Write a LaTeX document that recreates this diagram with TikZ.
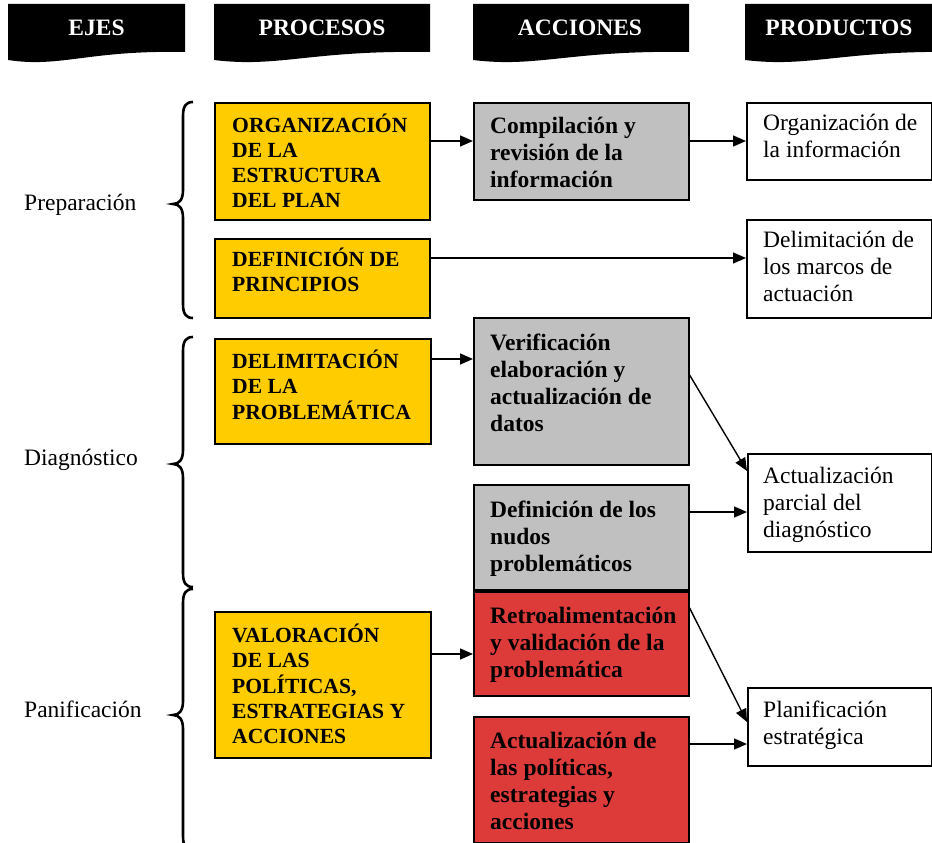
\documentclass[tikz,border=0pt]{standalone}
\usepackage{fontspec}
\setmainfont{Liberation Serif}
\usetikzlibrary{arrows.meta,calc}
\definecolor{yel}{RGB}{255,204,0}
\definecolor{gry}{RGB}{192,192,192}
\definecolor{rd}{RGB}{221,58,58}
\newcommand\bannerpath[2]{\fill[black] (#1,4) -- (#2,4) -- (#2,52) .. controls ({#1+0.45*(#2-#1)},50) and ({#1+0.3*(#2-#1)},68) .. (#1,60) -- cycle;}
\newcommand\bracepath[3]{\draw[line width=2.6pt] (193,#1) .. controls (186,#1) and (183,#1+4) .. (183,#1+14) -- (183,#2-14) .. controls (183,#2-4) and (179,#2) .. (173,#2) .. controls (179,#2) and (183,#2+4) .. (183,#2+14) -- (183,#3-14) .. controls (183,#3-4) and (186,#3) .. (193,#3);}
\begin{document}
\begin{tikzpicture}[x=1pt,y=-1pt,
  box/.style={draw=black,line width=1.6pt,anchor=north west,inner sep=0pt},
  btx/.style={inner sep=0pt,anchor=base west,font=\fontsize{23.5}{27}\selectfont\bfseries},
  ytx/.style={inner sep=0pt,anchor=base west,font=\fontsize{21.6}{25}\selectfont\bfseries},
  ptx/.style={inner sep=0pt,anchor=base west,font=\fontsize{23.5}{27}\selectfont},
  hd/.style={inner sep=0pt,anchor=base,text=white,font=\fontsize{23.5}{27}\selectfont\bfseries},
  lab/.style={inner sep=0pt,anchor=base west,font=\fontsize{23.5}{27}\selectfont},
  arr/.style={line width=1.4pt,-{Triangle[length=13pt,width=11pt]}}]
\useasboundingbox (0,0) rectangle (932,843);
% headers
\bannerpath{8}{185}
\bannerpath{214}{430}
\bannerpath{473}{689}
\bannerpath{745}{961}
\node[hd] (h1) at (96.5,36) {EJES};
\node[hd] (h2) at (322,36) {PROCESOS};
\node[hd] (h3) at (580,36) {ACCIONES};
\node[hd] (h4) at (839,36) {PRODUCTOS};
% braces and axes
\bracepath{102}{204}{318}
\bracepath{337}{464}{587}
\bracepath{589}{715}{850}
\node[lab] (l1) at (24,210) {Preparación};
\node[lab] (l2) at (24,465) {Diagnóstico};
\node[lab] (l3) at (24,717) {Panificación};
% process boxes
\node[box,fill=yel,minimum width=215pt,minimum height=117pt] (org) at (214,102) {};
\node[box,fill=yel,minimum width=215pt,minimum height=79pt] (defp) at (214,238) {};
\node[box,fill=yel,minimum width=216pt,minimum height=105pt] (delim) at (214,338) {};
\node[box,fill=yel,minimum width=216pt,minimum height=146pt] (valor) at (214,611) {};
% action boxes
\node[box,fill=gry,minimum width=215pt,minimum height=97pt] (comp) at (473,102) {};
\node[box,fill=gry,minimum width=215pt,minimum height=147pt] (verif) at (473,317) {};
\node[box,fill=gry,minimum width=215pt,minimum height=105pt] (nudos) at (473,484) {};
\node[box,fill=rd,minimum width=215pt,minimum height=104pt] (retro) at (473,591) {};
\node[box,fill=rd,minimum width=215pt,minimum height=126pt] (actpol) at (473,716) {};
% product boxes
\node[box,fill=white,minimum width=185pt,minimum height=77pt] (p1) at (746,102) {};
\node[box,fill=white,minimum width=185pt,minimum height=98pt] (p2) at (746,219) {};
\node[box,fill=white,minimum width=184pt,minimum height=98pt] (p3) at (747,453) {};
\node[box,fill=white,minimum width=184pt,minimum height=78pt] (p4) at (747,687) {};
% texts
\node[ytx] (torg) at ($(org.north west)+(18,30)$) {\begin{tabular}[t]{@{}l@{}}ORGANIZACIÓN\\DE LA\\ESTRUCTURA\\DEL PLAN\end{tabular}};
\node[ytx] (tdefp) at ($(defp.north west)+(18,28)$) {\begin{tabular}[t]{@{}l@{}}DEFINICIÓN DE\\PRINCIPIOS\end{tabular}};
\node[ytx] (tdelim) at ($(delim.north west)+(18,30)$) {\begin{tabular}[t]{@{}l@{}}DELIMITACIÓN\\DE LA\\PROBLEMÁTICA\end{tabular}};
\node[ytx] (tvalor) at ($(valor.north west)+(18,31)$) {\begin{tabular}[t]{@{}l@{}}VALORACIÓN\\DE LAS\\POLÍTICAS,\\ESTRATEGIAS Y\\ACCIONES\end{tabular}};
\node[btx] (tcomp) at ($(comp.north west)+(17,31)$) {\begin{tabular}[t]{@{}l@{}}Compilación y\\revisión de la\\información\end{tabular}};
\node[btx] (tverif) at ($(verif.north west)+(17,33)$) {\begin{tabular}[t]{@{}l@{}}Verificación\\elaboración y\\actualización de\\datos\end{tabular}};
\node[btx] (tnudos) at ($(nudos.north west)+(17,33)$) {\begin{tabular}[t]{@{}l@{}}Definición de los\\nudos\\problemáticos\end{tabular}};
\node[btx] (tretro) at ($(retro.north west)+(17,32)$) {\begin{tabular}[t]{@{}l@{}}Retroalimentación\\y validación de la\\problemática\end{tabular}};
\node[btx] (tactpol) at ($(actpol.north west)+(17,32)$) {\begin{tabular}[t]{@{}l@{}}Actualización de\\las políticas,\\estrategias y\\acciones\end{tabular}};
\node[ptx] (tp1) at ($(p1.north west)+(17,28)$) {\begin{tabular}[t]{@{}l@{}}Organización de\\la información\end{tabular}};
\node[ptx] (tp2) at ($(p2.north west)+(17,28)$) {\begin{tabular}[t]{@{}l@{}}Delimitación de\\los marcos de\\actuación\end{tabular}};
\node[ptx] (tp3) at ($(p3.north west)+(16,30)$) {\begin{tabular}[t]{@{}l@{}}Actualización\\parcial del\\diagnóstico\end{tabular}};
\node[ptx] (tp4) at ($(p4.north west)+(16,30)$) {\begin{tabular}[t]{@{}l@{}}Planificación\\estratégica\end{tabular}};
% connectors
\coordinate (c1) at ($(org.north east)+(0,39)$);
\draw[arr] (c1) -- (c1 -| comp.west);
\coordinate (c2) at ($(comp.north east)+(0,39)$);
\draw[arr] (c2) -- (c2 -| p1.west);
\coordinate (c3) at ($(defp.north east)+(0,20)$);
\draw[arr] (c3) -- (c3 -| p2.west);
\coordinate (c4) at ($(delim.north east)+(0,21)$);
\draw[arr] (c4) -- (c4 -| verif.west);
\draw[arr] ($(verif.north east)+(0,58)$) -- ($(p3.north west)+(0,18)$);
\coordinate (c5) at ($(nudos.north east)+(0,28)$);
\draw[arr] (c5) -- (c5 -| p3.west);
\coordinate (c6) at ($(valor.north east)+(0,43)$);
\draw[arr] (c6) -- (c6 -| retro.west);
\draw[arr] ($(retro.north east)+(0,17)$) -- ($(p4.north west)+(0,35)$);
\coordinate (c7) at ($(actpol.north east)+(0,28)$);
\draw[arr] (c7) -- (c7 -| p4.west);
\end{tikzpicture}
\end{document}
